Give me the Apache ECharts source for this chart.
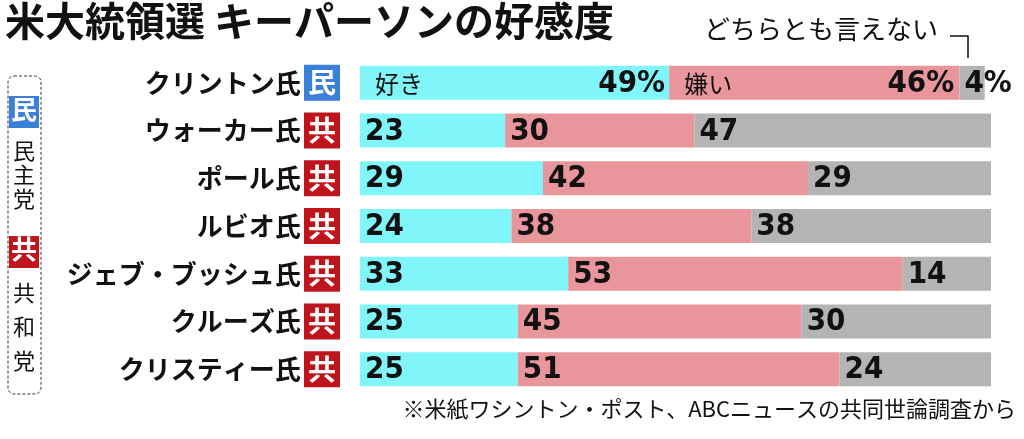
<!DOCTYPE html>
<html><head><meta charset="utf-8">
<script src="https://cdn.jsdelivr.net/npm/echarts@6/dist/echarts.min.js"></script>
<style>html,body{margin:0;background:#fff}#c{width:1024px;height:439px}</style>
</head><body><div id="c"></div>
<script>
const names = ['クリントン氏','ウォーカー氏','ポール氏','ルビオ氏','ジェブ・ブッシュ氏','クルーズ氏','クリスティー氏'];
const party = ['民','共','共','共','共','共','共'];
const like = [49,23,29,24,33,25,25];
const dislike = [46,30,42,38,53,45,51];
const neither = [4,47,29,38,14,30,24];

const F = '"Noto Sans CJK JP", sans-serif';
const NUM = '"Liberation Sans Narrow", "DejaVu Sans Condensed", sans-serif';
const chart = echarts.init(document.getElementById('c'));

function mk(vals, color, kind) {
  return {
    type: 'bar', stack: 's', barWidth: 34,
    itemStyle: { color: color },
    data: vals.map((v, i) => {
      const d = { value: v };
      if (i === 0) {
        const txt = kind === 0 ? '{t|好き}{p|49%}' : kind === 1 ? '{t|嫌い}{q|46%}' : '{n|4%}';
        d.label = { formatter: txt };
      }
      return d;
    }),
    label: {
      show: true, position: 'insideLeft', offset: [0, 1],
      formatter: p => '{n|' + p.value + '}',
      rich: {
        n: { fontFamily: NUM, fontWeight: 'bold', fontSize: 31, color: '#111' },
        t: { fontFamily: F, fontSize: 24, color: '#111', width: 160, padding: [0, 0, 0, 10] },
        p: { fontFamily: NUM, fontWeight: 'bold', fontSize: 31, color: '#111', width: 130, align: 'right' },
        q: { fontFamily: NUM, fontWeight: 'bold', fontSize: 31, color: '#111', width: 110, align: 'right' }
      }
    }
  };
}

const vtext = (chars, x, y0, step) => chars.split('').map((c, k) => ({
  type: 'text', left: x, top: y0 + k * step,
  style: { text: c, font: '22px ' + F, fill: '#111' }
}));

chart.setOption({
  animation: false,
  grid: { left: 360, right: 33, top: 59, bottom: 46 },
  xAxis: { type: 'value', min: 0, max: 100, show: false },
  yAxis: {
    type: 'category', inverse: true, data: names.map((n, i) => n + '|' + party[i]),
    axisLine: { show: false }, axisTick: { show: false },
    axisLabel: {
      margin: 20,
      formatter: v => { const [n, p] = v.split('|'); return '{n|' + n + '} {' + (p === '民' ? 'd' : 'r') + '|' + p + '}'; },
      rich: {
        n: { fontFamily: F, fontWeight: 'bold', fontSize: 26, color: '#111' },
        d: { fontFamily: F, fontWeight: 'bold', fontSize: 28, color: '#fff', backgroundColor: '#3a7fd8', width: 36, height: 36, align: 'center', lineHeight: 36 },
        r: { fontFamily: F, fontWeight: 'bold', fontSize: 28, color: '#fff', backgroundColor: '#c0141c', width: 36, height: 36, align: 'center', lineHeight: 36 }
      }
    }
  },
  series: [mk(like, '#80f6fa', 0), mk(dislike, '#e8959c', 1), mk(neither, '#b4b4b4', 2)],
  graphic: [
    { type: 'text', left: 5, top: 1, style: { text: '米大統領選 キーパーソンの好感度', font: 'bold 40px ' + F, fill: '#111' } },
    { type: 'text', left: 704, top: 16, style: { text: 'どちらとも言えない', font: '26px ' + F, fill: '#111' } },
    { type: 'polyline', shape: { points: [[950, 36], [968, 36], [968, 58]] }, style: { stroke: '#111', lineWidth: 1.5, fill: null } },
    { type: 'rect', shape: { x: 8, y: 76, width: 33, height: 318, r: 6 }, style: { fill: null, stroke: '#333', lineWidth: 1, lineDash: [3, 2] } },
    { type: 'rect', shape: { x: 9, y: 96, width: 30, height: 32 }, style: { fill: '#3a7fd8' } },
    { type: 'text', left: 11, top: 96, style: { text: '民', font: 'bold 26px ' + F, fill: '#fff' } },
    ...vtext('民主党', 13, 140, 24),
    { type: 'rect', shape: { x: 9, y: 236, width: 30, height: 32 }, style: { fill: '#c0141c' } },
    { type: 'text', left: 11, top: 236, style: { text: '共', font: 'bold 26px ' + F, fill: '#fff' } },
    ...vtext('共和党', 13, 282, 34),
    { type: 'text', right: 8, top: 398, style: { text: '※米紙ワシントン・ポスト、ABCニュースの共同世論調査から', font: '22px ' + F, fill: '#111' } }
  ]
});
</script></body></html>
